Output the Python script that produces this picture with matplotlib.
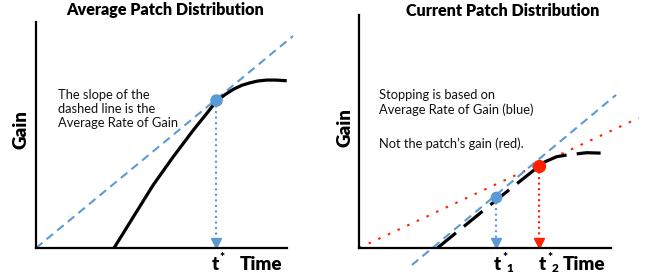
import matplotlib
matplotlib.use("Agg")
import matplotlib.pyplot as plt

plt.rcParams['font.family'] = ['Lato', 'DejaVu Sans']

W, H = 652, 280
BLUE = '#5B9BD5'
RED = '#FF2200'

# ---- left panel: average patch (time / gain in arbitrary units, axes 0..10)
avg_time = [3.11, 3.88, 4.67, 5.47, 6.27, 6.80, 7.20, 7.55, 7.86, 8.20, 8.53, 8.84, 9.19, 9.56, 9.99]
avg_gain = [0.00, 1.38, 2.79, 4.04, 5.22, 5.95, 6.52, 6.80, 7.02, 7.20, 7.31, 7.39, 7.43, 7.43, 7.40]
avg_rate_t = [0.0, 10.24]
avg_rate_g = [0.0, 9.38]
avg_opt = (7.19, 6.57)

# ---- right panel: current patch
cur_time = [3.11, 5.44, 7.15, 7.38, 7.85, 8.24, 9.04, 9.96]
cur_gain = [0.00, 2.05, 3.52, 3.70, 3.92, 3.99, 4.09, 4.06]
cur_rate_t = [2.10, 10.20]
cur_rate_g = [-0.73, 6.57]
patch_rate_t = [0.0, 11.10]
patch_rate_g = [0.0, 5.58]
t1 = (5.44, 2.19)
t2 = (7.15, 3.52)

fig = plt.figure(figsize=(W / 100, H / 100), dpi=100)


def px(x, y):
    return x / W, 1 - y / H


def panel(x0, x1, ytop):
    ax = fig.add_axes([x0 / W, (H - 248) / H, (x1 - x0) / W, (248 - ytop) / H])
    ax.set_xlim(0, 10)
    ax.set_ylim(0, 10)
    for s in ['top', 'right']:
        ax.spines[s].set_visible(False)
    for s in ['left', 'bottom']:
        ax.spines[s].set_linewidth(1.6)
        ax.spines[s].set_color('black')
    ax.set_xticks([])
    ax.set_yticks([])
    ax.patch.set_alpha(0)
    return ax


def drop(ax, pt, color, headoff):
    ax.plot([pt[0], pt[0]], [pt[1], headoff], color=color, lw=1.5, ls=':', clip_on=False)
    ax.plot([pt[0]], [headoff], marker='v', ms=7.5, color=color, mec=color, clip_on=False)


# left
ax1 = panel(36, 287, 22)
ax1.plot(avg_rate_t, avg_rate_g, color=BLUE, lw=1.5, dashes=(4, 2.6), clip_on=False)
ax1.plot(avg_time, avg_gain, color='black', lw=2.3, solid_capstyle='butt',
         solid_joinstyle='round', clip_on=False)
drop(ax1, avg_opt, BLUE, 0.24)
ax1.plot([avg_opt[0]], [avg_opt[1]], 'o', ms=8, color=BLUE, clip_on=False)

# right
ax2 = panel(359, 611, 15)
ax2.plot(patch_rate_t, patch_rate_g, color=RED, lw=1.5, dashes=(1.2, 3.9), clip_on=False)
ax2.plot(cur_rate_t, cur_rate_g, color=BLUE, lw=1.5, dashes=(4, 2.6), clip_on=False)
ax2.plot(cur_time, cur_gain, color='black', lw=2.3, dashes=(7.5, 3.2), clip_on=False)
drop(ax2, t1, BLUE, 0.23)
drop(ax2, t2, RED, 0.23)
ax2.plot([t1[0]], [t1[1]], 'o', ms=7.5, color=BLUE, clip_on=False)
ax2.plot([t2[0]], [t2[1]], 'o', ms=8.5, color=RED, clip_on=False)

# titles
fig.text(*px(165, 10), 'Average Patch Distribution', ha='center', va='center',
         fontsize=11.6, fontweight='heavy')
fig.text(*px(503, 11), 'Current Patch Distribution', ha='center', va='center',
         fontsize=11.6, fontweight='heavy')

# axis labels
lab = dict(ha='center', va='center', fontsize=13.5, fontweight='heavy')
fig.text(*px(21, 130), 'Gain', rotation=90, **lab)
fig.text(*px(345, 128), 'Gain', rotation=90, **lab)
fig.text(*px(261, 264), 'Time', **lab)
fig.text(*px(584, 264), 'Time', **lab)

# t* labels
sub = dict(ha='center', va='center', fontsize=8.5, fontweight='heavy')
fig.text(*px(215, 264), 't', **lab)
fig.text(*px(222, 258), '*', **sub)
fig.text(*px(497, 264), 't', **lab)
fig.text(*px(505, 258), '*', **sub)
fig.text(*px(510, 269), '1', **sub)
fig.text(*px(542, 264), 't', **lab)
fig.text(*px(550, 258), '*', **sub)
fig.text(*px(555, 269), '2', **sub)

# notes
note = dict(ha='left', va='baseline', fontsize=9.3, color='#111111')
for i, s in enumerate(['The slope of the', 'dashed line is the', 'Average Rate of Gain']):
    fig.text(*px(58, 99 + 14 * i), s, **note)
fig.text(*px(379, 99), 'Stopping is based on', **note)
fig.text(*px(379, 114), 'Average Rate of Gain (blue)', **note)
fig.text(*px(379, 148), 'Not the patch\u2019s gain (red).', **note)

fig.savefig('out.png', dpi=100)
